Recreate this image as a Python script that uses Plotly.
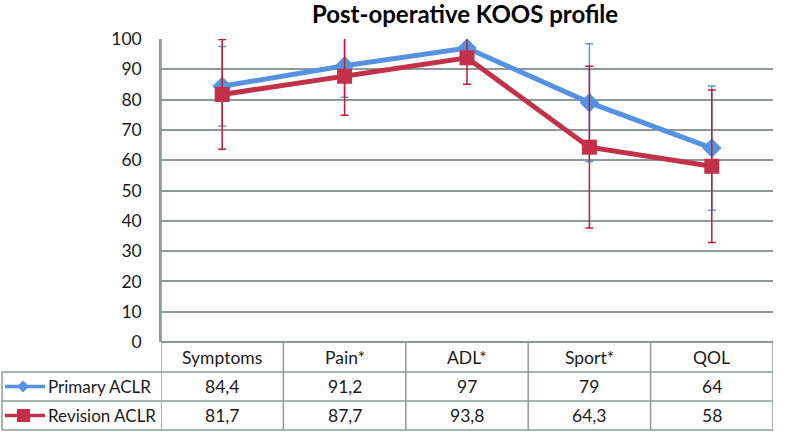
import plotly.graph_objects as go

categories = ["Symptoms", "Pain*", "ADL*", "Sport*", "QOL"]
primary = [84.4, 91.2, 97, 79, 64]
revision = [81.7, 87.7, 93.8, 64.3, 58]
primary_sd = [13.1, 10.4, 5.0, 19.4, 20.5]
revision_sd = [18.1, 12.9, 8.7, 26.7, 25.2]
series_names = ["Primary ACLR", "Revision ACLR"]

blue = "#5592E2"
red = "#C3304A"
grid = "#8E9A9A"
font = "Lato"
fsize = 17.5
txt = "#1a1a1a"


def fmt(v):
    return f"{v:g}".replace(".", ",")


fig = go.Figure()
fig.add_trace(go.Scatter(
    x=categories, y=primary, name=series_names[0], mode="lines+markers",
    line=dict(color=blue, width=5),
    marker=dict(symbol="diamond", size=15, color=blue),
    error_y=dict(type="data", array=primary_sd, color="#5A9BE0", thickness=1.5, width=4),
))
fig.add_trace(go.Scatter(
    x=categories, y=revision, name=series_names[1], mode="lines+markers",
    line=dict(color=red, width=5),
    marker=dict(symbol="square", size=15, color=red),
    error_y=dict(type="data", array=revision_sd, color="#C01E2E", thickness=1.5, width=4),
))

plot_l, plot_w, plot_h = 161.0, 612.0, 303.0


def px(p):
    return (p - plot_l) / plot_w


def py(p):
    return -(p - 342) / plot_h


line = dict(color=grid, width=1.5)
shapes = []
for p in [372, 401, 430]:
    shapes.append(dict(type="line", xref="paper", yref="paper", x0=px(2), x1=1,
                       y0=py(p), y1=py(p), line=line))
shapes.append(dict(type="line", xref="paper", yref="paper", x0=px(2), x1=px(2),
                   y0=py(372), y1=py(430), line=line))
for i in range(len(categories) + 1):
    shapes.append(dict(type="line", xref="x", yref="paper", x0=i - 0.5, x1=i - 0.5,
                       y0=0 if i else 1, y1=py(430), line=line))

# legend keys drawn inside the table's row-label cells
row_y = [386.5, 415.5]
for col, yy in [(blue, row_y[0]), (red, row_y[1])]:
    shapes.append(dict(type="line", xref="paper", yref="paper", x0=px(5), x1=px(45),
                       y0=py(yy), y1=py(yy), line=dict(color=col, width=3.5)))
d = 6
shapes.append(dict(type="path", xref="paper", yref="paper", fillcolor=blue, line=dict(width=0),
                   path=f"M {px(23 - d)} {py(row_y[0])} L {px(23)} {py(row_y[0] - d)} "
                        f"L {px(23 + d)} {py(row_y[0])} L {px(23)} {py(row_y[0] + d)} Z"))
shapes.append(dict(type="rect", xref="paper", yref="paper", fillcolor=red, line=dict(width=0),
                   x0=px(17), x1=px(30), y0=py(row_y[1] - 6.5), y1=py(row_y[1] + 6.5)))

tf = dict(size=fsize, color=txt, family=font)
annotations = []
for i, c in enumerate(categories):
    for text, yy in [(c, 357), (fmt(primary[i]), row_y[0]), (fmt(revision[i]), row_y[1])]:
        annotations.append(dict(x=c, y=py(yy), xref="x", yref="paper", text=text,
                                xanchor="center", yanchor="middle", showarrow=False, font=tf))
for name, yy in zip(series_names, row_y):
    annotations.append(dict(x=px(46), y=py(yy), xref="paper", yref="paper", text=name,
                            xanchor="left", yanchor="middle", showarrow=False,
                            font=dict(size=17, color=txt, family=font)))

fig.update_layout(
    width=786, height=432,
    margin=dict(l=161, r=13, t=39, b=90),
    paper_bgcolor="white", plot_bgcolor="white",
    showlegend=False,
    title=dict(text="<b>Post-operative KOOS profile</b>", x=465 / 786, xanchor="center",
               y=1 - 15 / 432, yanchor="middle", font=dict(size=24, color="black", family=font)),
    font=dict(family=font, size=fsize, color=txt),
    xaxis=dict(range=[-0.5, 4.5], showticklabels=False, showgrid=False, zeroline=False,
               showline=False, fixedrange=True),
    yaxis=dict(range=[0, 100], dtick=10, showgrid=True, gridcolor=grid, gridwidth=1.5,
               zeroline=True, zerolinecolor=grid, zerolinewidth=1.5,
               showline=True, linecolor=grid, linewidth=1.5,
               ticks="", ticklabelstandoff=14, tickfont=tf),
    shapes=shapes,
    annotations=annotations,
)

fig.write_html("out.html", config={"displayModeBar": False},
               post_script="document.body.style.margin='0';")
